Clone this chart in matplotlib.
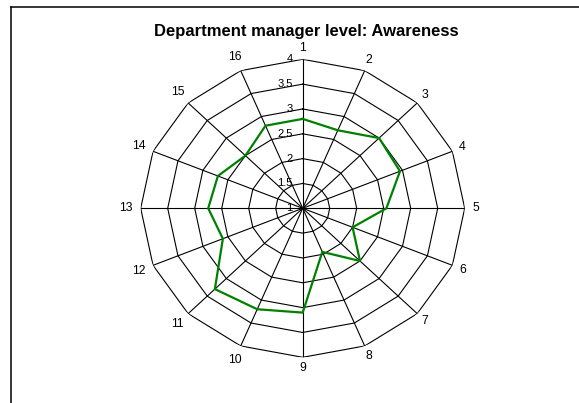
import numpy as np
import matplotlib
matplotlib.use("Agg")
import matplotlib.pyplot as plt
from matplotlib.lines import Line2D

plt.rcParams['font.family'] = ['Liberation Sans', 'DejaVu Sans']

title = "Department manager level: Awareness"
categories = [str(i) for i in range(1, 17)]
values = [2.8, 2.7, 3.0, 2.95, 2.55, 2.0, 2.5, 1.95, 3.1, 3.2, 3.3, 2.6, 2.75, 2.7, 2.5, 2.8]
rticks = [1, 1.5, 2, 2.5, 3, 3.5, 4]
rtick_labels = ["1", "1.5", "2", "2.5", "3", "3.5", "4"]

W, H = 579, 403
fig = plt.figure(figsize=(W / 100, H / 100), dpi=100)
fig.patch.set_facecolor('white')

# outer frame (left and top edges visible)
fig.add_artist(Line2D([10.5 / W, 10.5 / W], [0, 1 - 6.5 / H], transform=fig.transFigure, color='black', lw=1.1))
fig.add_artist(Line2D([10.5 / W, 1], [1 - 6.5 / H, 1 - 6.5 / H], transform=fig.transFigure, color='black', lw=1.1))

cx, cy, rx, ry = 302.7, 208.3, 162.0, 149.0
ax = fig.add_axes([(cx - rx) / W, (H - cy - ry) / H, 2 * rx / W, 2 * ry / H], projection='polar')
ax.set_aspect('auto')
ax.set_theta_zero_location('N')
ax.set_theta_direction(-1)
ax.set_ylim(rticks[0], rticks[-1])
ax.grid(False)
ax.set_xticks([])
ax.set_yticks([])
ax.spines['polar'].set_visible(False)
ax.patch.set_visible(False)

n = len(categories)
theta = np.arange(n) * 2 * np.pi / n
theta_c = np.append(theta, theta[0])

# polygon grid
for r in rticks[1:]:
    ax.plot(theta_c, [r] * (n + 1), color='black', lw=0.8, zorder=1)
# spokes
for t in theta:
    ax.plot([t, t], [rticks[0], rticks[-1]], color='black', lw=0.8, zorder=1)

# data line
vals_c = values + values[:1]
ax.plot(theta_c, vals_c, color='#008000', lw=1.6, zorder=3)

# radial tick labels
for r, lab in zip(rticks, rtick_labels):
    ax.annotate(lab, xy=(0, r), xytext=(-10, 0), textcoords='offset pixels',
                ha='right', va='center', fontsize=8, zorder=4)

# category labels
for t, lab in zip(theta, categories):
    gap = 11 if len(lab) == 1 else 15
    ax.annotate(lab, xy=(t, rticks[-1]), xytext=(gap * np.sin(t), gap * np.cos(t)),
                textcoords='offset pixels', ha='center', va='center', fontsize=8.8,
                annotation_clip=False)

fig.text(306 / W, 1 - 35.7 / H, title, ha='center', va='baseline', fontsize=12, fontweight='bold')

fig.savefig('out.png', dpi=100)
